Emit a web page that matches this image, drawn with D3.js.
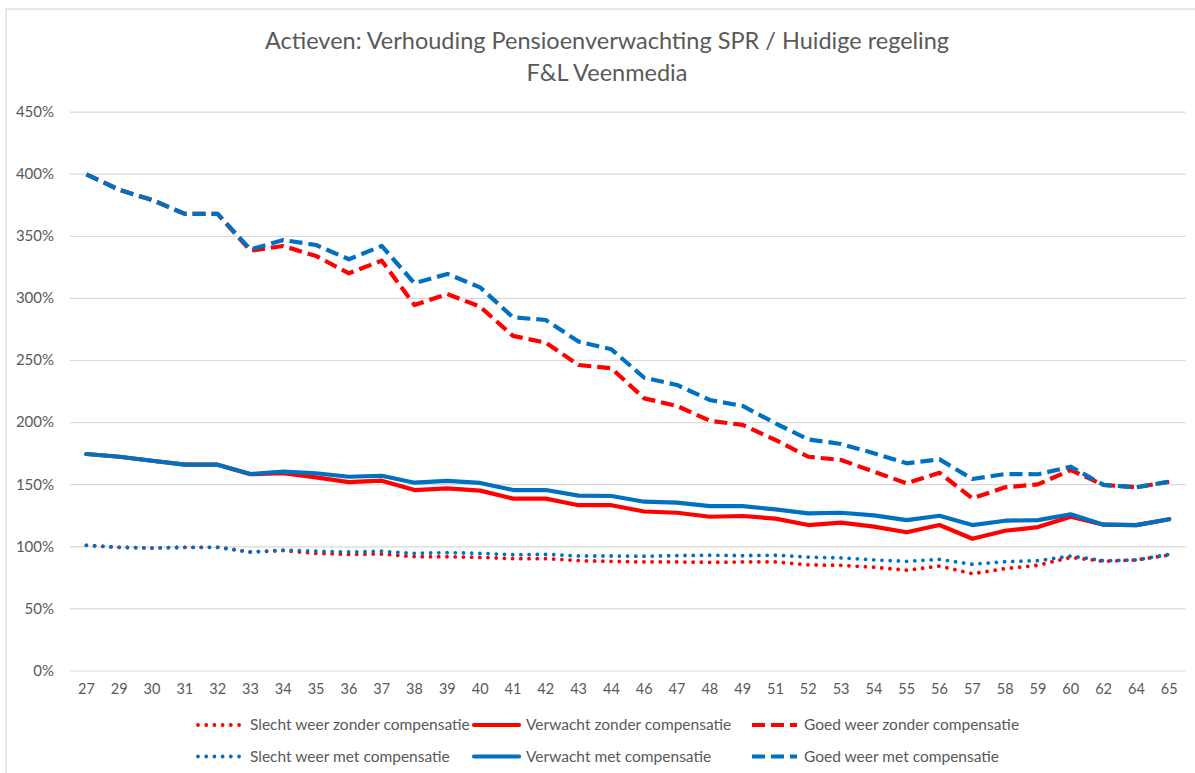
<!DOCTYPE html>
<html>
<head>
<meta charset="utf-8">
<script src="https://cdn.jsdelivr.net/npm/d3@7"></script>
<style>
  html, body { margin: 0; padding: 0; background: #fff; }
  svg { display: block; font-family: Lato, "Open Sans", sans-serif; }
</style>
</head>
<body>
<svg id="chart" width="1195" height="773"></svg>
<script>
// ---- Data ----
const categories = ["27","29","30","31","32","33","34","35","36","37","38","39","40","41","42","43","44","46","47","48","49","51","52","53","54","55","56","57","58","59","60","62","64","65"];

const slechtZonder  = [100.8,99.2,98.6,99.2,99.2,95.4,96.5,94.3,93.5,93.8,91.6,91.6,91.1,90.0,90.0,88.4,87.9,87.4,87.4,87.1,87.4,87.4,85.0,84.7,83.1,80.7,84.1,77.9,82.0,84.7,91.1,87.9,89.0,93.0];
const verwachtZonder = [174.3,172.1,168.9,165.7,165.7,158.0,158.8,155.5,151.7,152.8,145.3,146.7,144.8,138.4,138.4,133.1,133.1,128.0,127.0,123.8,124.4,122.3,117.1,119.0,115.8,111.3,117.1,106.1,112.5,115.5,123.8,117.4,117.1,121.8];
const goedZonder    = [399.5,387.0,378.9,367.6,367.6,338.0,341.8,333.7,319.8,330.0,294.2,303.1,292.9,269.4,264.0,246.0,243.3,219.1,213.0,201.1,197.7,185.6,172.1,169.5,160.1,150.7,159.2,138.6,147.5,149.9,161.4,149.4,147.5,152.0];
const slechtMet     = [100.8,99.2,98.6,99.2,99.2,95.4,97.0,96.0,95.4,96.0,94.3,94.9,94.3,93.2,93.5,92.2,92.2,92.0,92.5,92.8,92.5,92.8,91.3,90.6,89.0,87.9,89.5,85.5,87.6,88.4,92.2,88.4,89.0,93.5];
const verwachtMet   = [174.3,172.1,168.9,165.7,165.7,158.2,160.1,158.8,156.0,156.8,151.2,152.6,151.0,145.3,145.3,140.8,140.5,135.9,135.1,132.4,132.4,129.7,126.5,127.0,124.9,121.1,124.6,117.1,120.6,121.1,125.8,117.4,117.1,121.8];
const goedMet       = [399.5,387.0,378.9,367.6,367.6,339.0,346.6,342.6,331.1,341.8,311.8,319.3,308.5,284.4,282.2,264.8,258.6,235.7,229.9,217.8,213.0,199.0,186.1,182.4,174.9,166.8,170.0,154.2,158.2,158.0,164.1,149.4,147.5,152.0];

const yTicks = [0,50,100,150,200,250,300,350,400,450];
const titleLines = ["Actieven: Verhouding Pensioenverwachting SPR / Huidige regeling", "F&L Veenmedia"];

const series = [
  { name: "Slecht weer zonder compensatie", values: slechtZonder,  color: "#FF0000", style: "dot" },
  { name: "Verwacht zonder compensatie",    values: verwachtZonder, color: "#FF0000", style: "solid" },
  { name: "Goed weer zonder compensatie",   values: goedZonder,    color: "#FF0000", style: "dash" },
  { name: "Slecht weer met compensatie",    values: slechtMet,     color: "#0070C0", style: "dot" },
  { name: "Verwacht met compensatie",       values: verwachtMet,   color: "#0070C0", style: "solid" },
  { name: "Goed weer met compensatie",      values: goedMet,       color: "#0070C0", style: "dash" }
];

// ---- Layout ----
const svg = d3.select("#chart");
const plot = { left: 70, right: 1185.6, top: 111.6, bottom: 670.5 };
const textColor = "#595959";

function styleLine(sel, s) {
  sel.attr("stroke", s.color).attr("fill", "none");
  if (s.style === "dot") {
    sel.attr("stroke-width", 3.8).attr("stroke-linecap", "round").attr("stroke-dasharray", "0.01 8.2");
  } else if (s.style === "dash") {
    sel.attr("stroke-width", 4.2).attr("stroke-linecap", "butt").attr("stroke-dasharray", "13 6");
  } else {
    sel.attr("stroke-width", 4.2).attr("stroke-linecap", "round");
  }
  sel.attr("stroke-linejoin", "round");
}

// chart border
svg.append("rect").attr("x", 6).attr("y", 9).attr("width", 1250).attr("height", 800)
  .attr("fill", "#fff").attr("stroke", "#D9D9D9").attr("stroke-width", 1.2);

const x = d3.scaleBand().domain(categories).range([plot.left, plot.right]).padding(0);
const y = d3.scaleLinear().domain([0, 450]).range([plot.bottom, plot.top]);

// gridlines
const yAxis = d3.axisLeft(y).tickValues(yTicks).tickFormat(d => d + "%")
  .tickSize(-(plot.right - plot.left)).tickPadding(16);
const gy = svg.append("g").attr("transform", `translate(${plot.left},0)`).call(yAxis);
gy.select(".domain").remove();
gy.selectAll(".tick line").attr("stroke", "#D9D9D9").attr("stroke-width", 1.2);
gy.selectAll(".tick text").attr("fill", textColor).attr("font-size", 15)
  .attr("font-family", "Lato, sans-serif");

// x axis labels
const xAxis = d3.axisBottom(x).tickSize(0).tickPadding(13);
const gx = svg.append("g").attr("transform", `translate(0,${plot.bottom})`).call(xAxis);
gx.select(".domain").remove();
gx.selectAll(".tick text").attr("fill", textColor).attr("font-size", 14.5)
  .attr("font-family", "Lato, sans-serif");

// lines
const line = d3.line()
  .x((d, i) => x(categories[i]) + x.bandwidth() / 2)
  .y(d => y(d));

series.forEach(s => {
  svg.append("path").datum(s.values).attr("d", line).call(styleLine, s);
});

// title
svg.append("g").selectAll("text").data(titleLines).join("text")
  .attr("x", 607).attr("y", (d, i) => 49 + i * 32)
  .attr("text-anchor", "middle").attr("fill", textColor)
  .attr("font-size", 23.5).attr("font-family", "Lato, sans-serif")
  .text(d => d);

// legend
const legendCols = [198, 474, 752];
const legendRows = [725, 756.5];
const lg = svg.append("g");
series.forEach((s, i) => {
  const col = i % 3, row = Math.floor(i / 3);
  const lx = legendCols[col], ly = legendRows[row];
  const item = lg.append("g");
  item.append("path").attr("d", d3.line()([[lx, ly], [lx + 45, ly]])).call(styleLine, s);
  item.append("text").attr("x", lx + 52).attr("y", ly).attr("dy", "0.35em")
    .attr("fill", textColor).attr("font-size", 15.5).attr("font-family", "Lato, sans-serif")
    .text(s.name);
});
</script>
</body>
</html>
